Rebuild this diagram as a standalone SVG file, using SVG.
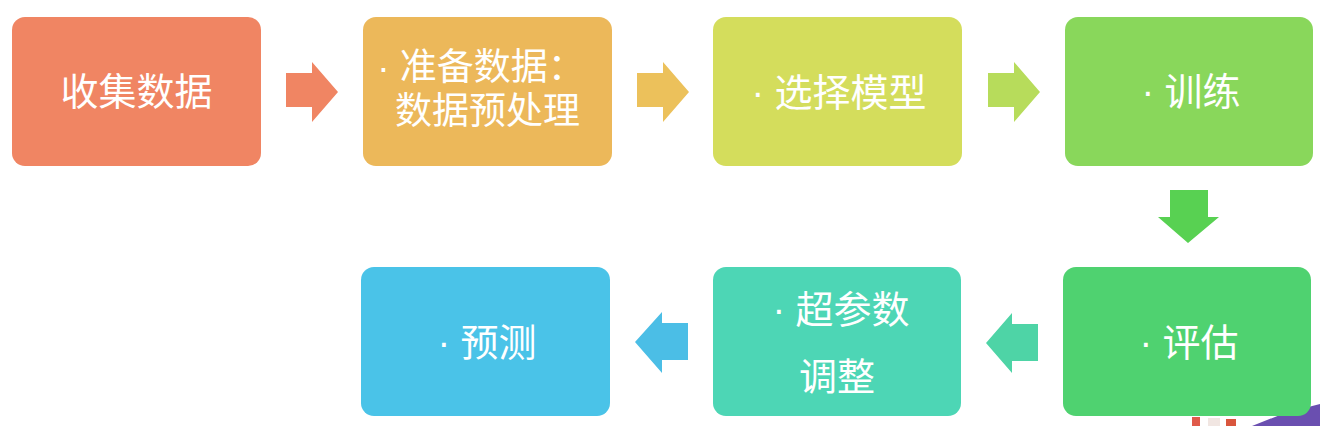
<svg xmlns="http://www.w3.org/2000/svg" width="1320" height="426" viewBox="0 0 1320 426">
  <style>
    .box { stroke: none; }
    .lbl { font-family: "Noto Sans CJK SC", "Noto Sans", sans-serif; font-size: 38px; fill: #ffffff; text-anchor: middle; }
    .sm { font-size: 37px; }
    .dot { font-family: "Liberation Sans", "DejaVu Sans", sans-serif; }
  </style>
  <rect width="1320" height="426" fill="#ffffff"/>
  <g id="bg-overlay">
    <polygon points="1252,426 1285,413 1320,404 1320,426" fill="#6a4fb0"/>
    <rect x="1192" y="417" width="8" height="9" fill="#e05a4a"/>
    <rect x="1208" y="418" width="12" height="8" fill="#f1e6e2"/>
    <rect x="1226" y="419" width="10" height="7" fill="#d9563d"/>
  </g>
  <g id="connectors">
    <polygon points="286,73 312,73 312,62 338,92 312,122 312,107 286,107" fill="#F08563"/>
    <polygon points="637,73 663,73 663,62 689,92 663,122 663,107 637,107" fill="#ECC15B"/>
    <polygon points="988,73 1014,73 1014,62 1040,92 1014,122 1014,107 988,107" fill="#B7DC5B"/>
    <polygon points="1170,190 1208,190 1208,217 1219,217 1188,243 1158,217 1170,217" fill="#58D152"/>
    <polygon points="1038,324 1012,324 1012,313 986,343 1012,373 1012,361 1038,361" fill="#4ED4A6"/>
    <polygon points="688,323 662,323 662,312 635,342 662,373 662,360 688,360" fill="#4BBEE6"/>
  </g>
  <g id="n1">
    <rect class="box" x="12" y="17" width="249" height="149" rx="13" fill="#F08563"/>
    <text class="lbl" x="136.5" y="105">收集数据</text>
  </g>
  <g id="n2">
    <rect class="box" x="363" y="17" width="249" height="149" rx="13" fill="#ECB85A"/>
    <text class="lbl sm" x="481" y="80"><tspan class="dot">· </tspan>准备数据：</text>
    <text class="lbl sm" x="487.5" y="124">数据预处理</text>
  </g>
  <g id="n3">
    <rect class="box" x="713" y="17" width="249" height="149" rx="13" fill="#D4DD5C"/>
    <text class="lbl" x="839" y="106"><tspan class="dot">· </tspan>选择模型</text>
  </g>
  <g id="n4">
    <rect class="box" x="1065" y="17" width="248" height="149" rx="13" fill="#89D75B"/>
    <text class="lbl" x="1191" y="105"><tspan class="dot">· </tspan>训练</text>
  </g>
  <g id="n5">
    <rect class="box" x="1063" y="267" width="248" height="149" rx="13" fill="#4FD270" stroke="#ffffff" stroke-width="1.5"/>
    <text class="lbl" x="1189" y="356"><tspan class="dot">· </tspan>评估</text>
  </g>
  <g id="n6">
    <rect class="box" x="713" y="267" width="248" height="149" rx="13" fill="#4DD6B5"/>
    <text class="lbl" x="841" y="323"><tspan class="dot">· </tspan>超参数</text>
    <text class="lbl" x="837" y="390">调整</text>
  </g>
  <g id="n7">
    <rect class="box" x="361" y="267" width="249" height="149" rx="13" fill="#4AC3E8"/>
    <text class="lbl" x="487" y="356"><tspan class="dot">· </tspan>预测</text>
  </g>
</svg>
